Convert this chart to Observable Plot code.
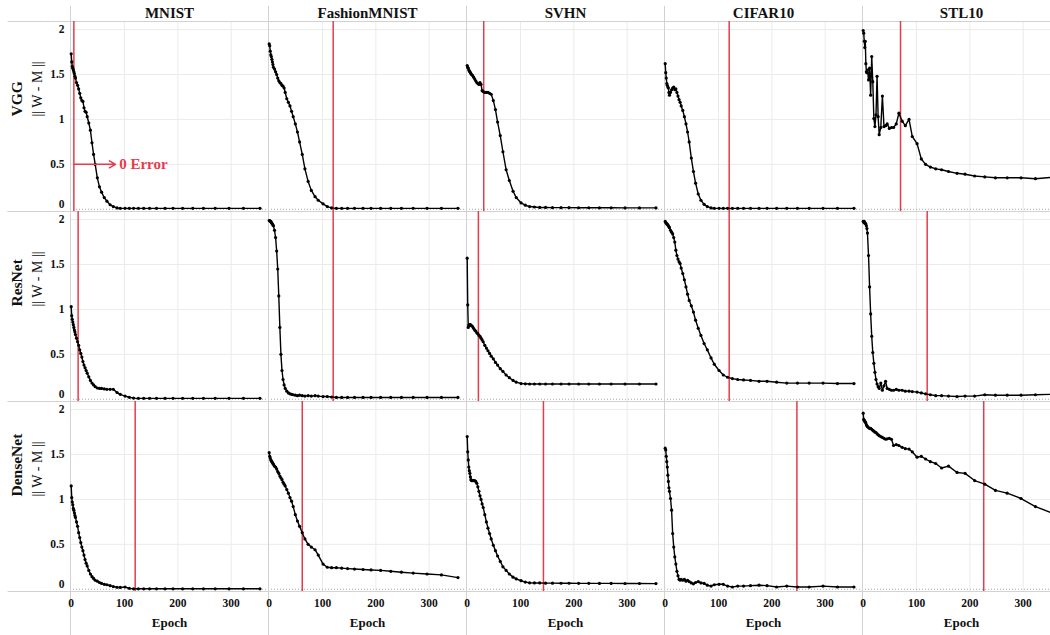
<!DOCTYPE html>
<html><head><meta charset="utf-8">
<script src="https://cdn.jsdelivr.net/npm/d3@7"></script>
<script src="https://cdn.jsdelivr.net/npm/@observablehq/plot@0.6"></script>
<style>
html,body{margin:0;padding:0;overflow:hidden;background:#fff;}
svg{max-width:none !important;display:block;}
</style></head><body><div id="chart"></div>
<script>
const datasets = ["MNIST","FashionMNIST","SVHN","CIFAR10","STL10"];
const models = ["VGG","ResNet","DenseNet"];
const epochs = [0,1,2,3,4,5,6,7,8,10, 12,14,16,18,20,22,24,26,28,30, 33,36,39,42,45,49,53,57,62,67, 73,79,86,92,101,109,117,126,136,147, 160,176,191,209,228,248,270,296,323,354];

const vgg_mnist = [1.73,1.64,1.59,1.57,1.55,1.53,1.51,1.48,1.46,1.41, 1.38,1.34,1.29,1.24,1.21,1.20,1.13,1.09,1.08,1.03, 0.96,0.88,0.74,0.61,0.50,0.35,0.25,0.19,0.13,0.09, 0.05,0.03,0.015,0.01,0.01,0.01,0.01,0.01,0.01,0.01, 0.01,0.01,0.01,0.01,0.01,0.01,0.01,0.01,0.01,0.01];
const vgg_fashion = [1.84,1.82,1.76,1.72,1.70,1.67,1.64,1.61,1.58,1.56, 1.53,1.50,1.46,1.43,1.41,1.40,1.38,1.37,1.35,1.30, 1.23,1.19,1.15,1.09,1.03,0.95,0.86,0.75,0.61,0.45, 0.31,0.21,0.14,0.10,0.06,0.03,0.015,0.01,0.01,0.01, 0.01,0.01,0.01,0.01,0.01,0.01,0.01,0.01,0.01,0.01];
const vgg_svhn = [1.60,1.58,1.57,1.55,1.54,1.53,1.52,1.51,1.50,1.49, 1.47,1.45,1.43,1.41,1.40,1.39,1.41,1.39,1.32,1.31, 1.30,1.30,1.30,1.29,1.28,1.21,1.11,0.97,0.82,0.64, 0.44,0.32,0.20,0.13,0.07,0.045,0.03,0.025,0.02,0.02, 0.018,0.018,0.018,0.017,0.017,0.016,0.016,0.015,0.015,0.015];
const vgg_cifar10 = [1.62,1.52,1.46,1.40,1.38,1.36,1.35,1.30,1.27,1.30, 1.33,1.35,1.36,1.33,1.34,1.30,1.26,1.22,1.19,1.15, 1.10,1.03,0.95,0.86,0.75,0.57,0.42,0.29,0.17,0.10, 0.055,0.03,0.015,0.01,0.01,0.01,0.01,0.01,0.01,0.01, 0.01,0.01,0.01,0.01,0.01,0.01,0.01,0.01,0.01,0.01];
const vgg_stl10 = [1.99,1.96,1.87,1.80,1.87,1.62,1.53,1.52,1.55,1.44, 1.57,1.27,1.70,1.42,1.01,0.92,1.05,1.48,1.03,0.83, 0.91,1.26,0.92,0.93,0.95,0.90,0.91,0.91,0.95,1.07, 0.98,0.93,1.00,0.81,0.73,0.56,0.50,0.47,0.45,0.44, 0.42,0.40,0.39,0.37,0.36,0.35,0.35,0.35,0.34,0.355];

const resnet_mnist = [1.03,0.93,0.89,0.86,0.83,0.80,0.77,0.75,0.72,0.68, 0.64,0.60,0.55,0.51,0.47,0.42,0.38,0.35,0.32,0.29, 0.25,0.21,0.18,0.16,0.14,0.125,0.12,0.12,0.115,0.11, 0.11,0.11,0.075,0.055,0.035,0.022,0.013,0.01,0.01,0.01, 0.01,0.01,0.01,0.01,0.01,0.01,0.01,0.01,0.01,0.01];
const resnet_fashion = [1.99,1.99,1.98,1.98,1.97,1.96,1.95,1.94,1.93,1.88, 1.80,1.65,1.45,1.15,0.80,0.50,0.32,0.22,0.16,0.12, 0.09,0.07,0.06,0.055,0.05,0.045,0.04,0.045,0.04,0.035, 0.04,0.035,0.04,0.035,0.03,0.03,0.025,0.02,0.02,0.02, 0.02,0.02,0.02,0.02,0.02,0.02,0.02,0.02,0.02,0.02];
const resnet_svhn = [1.57,1.05,0.80,0.82,0.83,0.83,0.83,0.82,0.82,0.81, 0.79,0.77,0.76,0.74,0.73,0.71,0.70,0.68,0.66,0.64, 0.60,0.57,0.54,0.51,0.48,0.45,0.41,0.38,0.34,0.31, 0.27,0.24,0.21,0.19,0.175,0.172,0.17,0.17,0.17,0.17, 0.17,0.17,0.17,0.17,0.17,0.17,0.17,0.17,0.17,0.17];
const resnet_cifar10 = [1.98,1.97,1.96,1.95,1.95,1.94,1.93,1.92,1.91,1.88, 1.86,1.84,1.80,1.75,1.66,1.60,1.56,1.53,1.51,1.46, 1.40,1.33,1.25,1.17,1.10,1.04,0.97,0.88,0.79,0.71, 0.62,0.55,0.46,0.39,0.32,0.27,0.245,0.23,0.22,0.215, 0.21,0.20,0.20,0.19,0.18,0.18,0.18,0.18,0.175,0.175];
const resnet_stl10 = [1.98,1.97,1.98,1.96,1.96,1.95,1.93,1.90,1.85,1.60, 1.25,0.95,0.70,0.52,0.40,0.30,0.22,0.17,0.14,0.12, 0.18,0.10,0.15,0.20,0.12,0.11,0.10,0.10,0.11,0.10, 0.10,0.09,0.09,0.085,0.08,0.07,0.06,0.05,0.04,0.04, 0.035,0.03,0.035,0.035,0.05,0.045,0.045,0.045,0.05,0.055];

const densenet_mnist = [1.15,1.02,0.97,0.94,0.90,0.88,0.85,0.82,0.80,0.75, 0.70,0.63,0.575,0.52,0.47,0.43,0.38,0.33,0.29,0.26, 0.21,0.17,0.14,0.12,0.10,0.09,0.075,0.065,0.055,0.05, 0.04,0.03,0.022,0.02,0.025,0.01,0.005,0.005,0.005,0.005, 0.005,0.005,0.005,0.005,0.005,0.005,0.005,0.005,0.005,0.005];
const densenet_fashion = [1.52,1.48,1.46,1.44,1.43,1.42,1.41,1.40,1.39,1.37, 1.36,1.34,1.31,1.29,1.26,1.24,1.22,1.19,1.17,1.15, 1.11,1.07,1.02,0.98,0.92,0.83,0.76,0.70,0.63,0.56, 0.50,0.47,0.44,0.38,0.28,0.245,0.24,0.24,0.235,0.23, 0.225,0.22,0.215,0.21,0.20,0.19,0.18,0.17,0.16,0.13];
const densenet_svhn = [1.70,1.53,1.44,1.36,1.32,1.29,1.25,1.22,1.21,1.21, 1.21,1.21,1.20,1.18,1.14,1.09,1.04,1.00,0.95,0.91, 0.83,0.75,0.68,0.62,0.56,0.49,0.43,0.37,0.31,0.25, 0.21,0.17,0.135,0.115,0.095,0.08,0.072,0.07,0.07,0.068, 0.068,0.067,0.067,0.066,0.066,0.065,0.065,0.064,0.064,0.063];
const densenet_cifar10 = [1.57,1.55,1.48,1.42,1.36,1.27,1.20,1.13,1.09,1.01, 0.88,0.62,0.47,0.36,0.28,0.20,0.15,0.11,0.10,0.11, 0.10,0.11,0.09,0.10,0.085,0.07,0.06,0.075,0.085,0.07, 0.065,0.045,0.035,0.05,0.055,0.055,0.035,0.025,0.035,0.035, 0.04,0.045,0.04,0.025,0.035,0.025,0.025,0.035,0.025,0.025];
const densenet_stl10 = [1.96,1.89,1.88,1.87,1.86,1.85,1.83,1.82,1.81,1.80, 1.79,1.79,1.78,1.77,1.76,1.75,1.745,1.73,1.72,1.71, 1.70,1.69,1.68,1.67,1.675,1.68,1.67,1.60,1.61,1.60, 1.58,1.565,1.56,1.53,1.47,1.48,1.45,1.42,1.40,1.35, 1.37,1.30,1.29,1.21,1.17,1.10,1.07,1.01,0.92,0.85];

// epoch at which training error reaches 0 (red line), per dataset
const zeroErrorVGG = [5,120,31,120,70];
const zeroErrorResNet = [13,120,21,120,120];
const zeroErrorDenseNet = [120,62,143,247,226];

const xTicks = [0,100,200,300];
const yTicks = [0.5,1,1.5,2];
const annotation = [{model:"VGG", dataset:"MNIST", from:5, to:83, textAt:90, value:0.5, label:"0 Error"}];

const series = {
  VGG: [vgg_mnist, vgg_fashion, vgg_svhn, vgg_cifar10, vgg_stl10],
  ResNet: [resnet_mnist, resnet_fashion, resnet_svhn, resnet_cifar10, resnet_stl10],
  DenseNet: [densenet_mnist, densenet_fashion, densenet_svhn, densenet_cifar10, densenet_stl10]
};
const zeroErr = {VGG: zeroErrorVGG, ResNet: zeroErrorResNet, DenseNet: zeroErrorDenseNet};

const rows = [];
const zeros = [];
models.forEach(m => datasets.forEach((d, di) => {
  series[m][di].forEach((v, i) => rows.push({model: m, dataset: d, epoch: epochs[i], value: v}));
  zeros.push({model: m, dataset: d, epoch: zeroErr[m][di]});
}));
const cells = models.flatMap(m => datasets.map(d => ({model: m, dataset: d})));
const topCells = cells.filter(c => c.model === "VGG");
const bottomCells = cells.filter(c => c.model === "DenseNet");
const leftCells = cells.filter(c => c.dataset === "MNIST");

const xDomain = [-1.3, 370];
const yDomain = [-0.025, 2.09];
const red = "#e53c4c";
const border = "#d2d2d2";
const F = "'Liberation Serif', 'Times New Roman', serif";
const fxy = {fx: "dataset", fy: "model"};

const chart = Plot.plot({
  width: 1060, height: 635,
  marginLeft: 70, marginRight: 0, marginTop: 20, marginBottom: 43,
  style: {fontFamily: F, background: "white", maxWidth: "none", color: "#111"},
  x: {domain: xDomain},
  y: {domain: yDomain},
  fx: {domain: datasets, padding: 0, axis: null},
  fy: {domain: models, padding: 0, axis: null},
  marks: [
    Plot.gridX(xTicks.slice(1), {stroke: "#ebebeb", strokeOpacity: 1}),
    Plot.gridY(yTicks, {stroke: "#ebebeb", strokeOpacity: 1}),
    Plot.ruleY([0], {stroke: "#a8a8a8", strokeDasharray: "1,2"}),
    Plot.frame({stroke: border}),
    Plot.ruleX(topCells, {...fxy, x: xDomain[0], y1: yDomain[1], y2: yDomain[1] + 0.17, stroke: border}),
    Plot.ruleX(bottomCells, {...fxy, x: xDomain[0], y1: yDomain[0], y2: yDomain[0] - 0.5, stroke: border}),
    Plot.ruleY(leftCells, {...fxy, y: yDomain[1], x1: xDomain[0] - 117, x2: xDomain[0], stroke: border}),
    Plot.ruleY(leftCells, {...fxy, y: yDomain[0], x1: xDomain[0] - 117, x2: xDomain[0], stroke: border}),
    Plot.ruleX(zeros, {...fxy, x: "epoch", stroke: red, strokeWidth: 1.5}),
    Plot.line(rows, {...fxy, x: "epoch", y: "value", stroke: "#000", strokeWidth: 1.4}),
    Plot.dot(rows, {...fxy, x: "epoch", y: "value", r: 1.6, fill: "#000", stroke: "none"}),
    Plot.arrow(annotation, {...fxy, x1: "from", x2: "to", y1: "value", y2: "value", stroke: red, strokeWidth: 1.5, headLength: 7}),
    Plot.text(annotation, {...fxy, x: "textAt", y: "value", text: "label", fill: red, fontWeight: "bold", fontSize: 15, textAnchor: "start", lineAnchor: "middle"}),
    Plot.axisX(xTicks, {anchor: "bottom", tickSize: 0, tickPadding: 7, tickFormat: d => String(d), fontWeight: "bold", fontSize: 11.5, label: null}),
    Plot.axisY(yTicks, {anchor: "left", tickSize: 0, tickPadding: 6, tickFormat: d => String(d), fontWeight: "bold", fontSize: 11.5, label: null}),
    Plot.axisY([0], {anchor: "left", tickSize: 0, tickPadding: 6, tickFormat: d => String(d), fontWeight: "bold", fontSize: 11.5, label: null, dy: -5}),
    Plot.text(topCells, {...fxy, text: "dataset", frameAnchor: "top", dy: -4, lineAnchor: "bottom", fontWeight: "bold", fontSize: 15}),
    Plot.text(bottomCells, {...fxy, text: () => "Epoch", frameAnchor: "bottom", dy: 35.5, lineAnchor: "bottom", fontWeight: "bold", fontSize: 13}),
    Plot.text(leftCells, {...fxy, text: "model", frameAnchor: "left", dx: -53, rotate: -90, fontSize: 15.5, fontWeight: "bold", lineAnchor: "middle"}),
    Plot.text(leftCells, {...fxy, text: () => "|| W - M ||", frameAnchor: "left", dx: -33, rotate: -90, fontSize: 14, lineAnchor: "middle"})
  ]
});
document.getElementById("chart").appendChild(chart);
</script>
</body></html>
